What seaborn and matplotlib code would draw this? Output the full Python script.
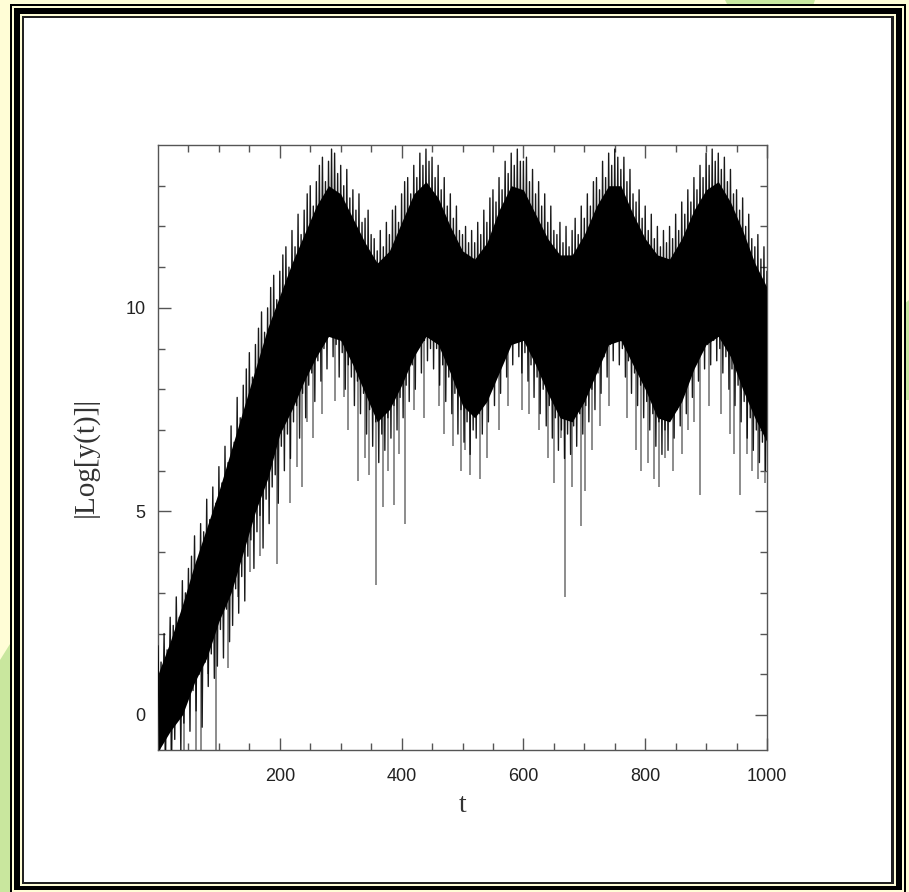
import numpy as np
import pandas as pd
import matplotlib
matplotlib.use("Agg")
import matplotlib.pyplot as plt
from matplotlib.patches import Rectangle, Polygon
import seaborn as sns

# ---- data -------------------------------------------------------------
# local maxima of the oscillation, every 5 time units (t = 0 ... 1000)
tips = [1.7, 1.3, 2.0, 1.6, 2.4, 2.2, 2.9, 2.4, 3.3, 3.0,
        3.6, 3.9, 4.4, 3.8, 4.7, 4.5, 5.3, 4.8, 5.6, 5.2,
        6.1, 5.7, 6.6, 6.2, 7.1, 6.7, 7.8, 7.3, 8.1, 8.5,
        8.9, 8.3, 9.1, 9.5, 9.9, 9.4, 10.0, 10.5, 10.8, 10.2,
        10.9,
        11.3, 11.5, 11.0, 11.9, 11.5, 12.3, 11.8, 12.4, 12.8, 13.0,
        12.5, 13.1, 13.5, 13.7, 13.1, 13.6, 13.9, 13.8, 13.3, 13.5,
        13.0, 13.4, 12.7, 12.9, 12.4, 12.8, 12.1, 12.2, 12.4, 11.8,
        11.7, 11.4, 11.9, 11.5, 12.1, 11.8, 12.4, 12.5, 12.1, 12.8,
        13.1, 13.2, 12.8, 13.5, 13.2, 13.8, 13.5, 13.9, 13.6, 13.7,
        13.2, 13.5, 12.9, 13.2, 12.5, 12.8, 12.2, 12.5, 11.9, 11.8,
        12.0, 11.6, 11.9, 11.6, 12.1, 11.8, 12.4, 12.1, 12.7, 12.9,
        12.6, 13.2, 12.9, 13.6, 13.3, 13.8, 13.5, 13.9, 13.6, 13.6,
        13.7, 13.1, 13.4, 12.8, 13.1, 12.5, 12.8, 12.1, 12.5, 11.9,
        11.8, 12.1, 11.6, 12.0, 11.5, 11.9, 12.2, 11.8, 12.5, 12.2,
        12.8, 12.5, 13.1, 13.2, 12.9, 13.6, 13.2, 13.8, 13.5, 13.9,
        13.7, 13.4, 13.7, 13.1, 13.4, 12.8, 12.6, 12.9, 12.2, 12.5,
        11.9, 12.3, 11.7, 12.0, 11.5, 11.9, 11.6, 12.0, 11.7, 12.3,
        11.9, 12.6, 12.3, 12.9, 12.6, 13.2, 12.9, 13.5, 13.2, 13.8,
        13.5, 13.9, 13.6, 13.8, 13.4, 13.7, 13.1, 13.4, 12.8, 12.9,
        12.4, 12.7, 12.0, 12.3, 11.7, 11.5, 11.8, 11.2, 11.5, 10.9]

# local minima in between (t = 2.5 ... 997.5)
dips = [-0.9, -0.5, -0.9, -0.1, -0.9, -0.6, 0.3, -0.9, -0.2, 0.5,
        -0.4, 0.6, 0.1, 1.0, -0.3, 1.3, 0.7, 1.5, 0.9, 1.2,
        2.1, 1.4, 2.6, 1.8, 2.2, 3.1, 2.5, 3.4, 2.8, 3.9,
        4.3, 3.6, 4.5, 4.9, 4.1, 5.3, 4.7, 5.6, 5.9, 5.2,
        6.6, 6.0, 6.9, 6.3, 7.2, 7.6, 6.8, 7.9, 7.3, 8.1,
        8.4, 7.7, 8.7, 8.2, 9.0, 8.5, 9.3, 8.8, 9.1, 8.3,
        8.9, 8.0, 8.6, 8.3, 7.6, 8.2, 7.4, 7.9, 6.9, 7.5,
        6.6, 7.2, 6.2, 6.9, 6.5, 7.3, 6.8, 7.6, 7.0, 7.8,
        7.3, 8.1, 7.7, 8.6, 8.0, 9.0, 8.4, 9.2, 8.7, 9.0,
        8.5, 9.0, 8.1, 8.6, 7.7, 8.3, 7.4, 7.9, 6.9, 7.5,
        6.7, 7.2, 6.4, 7.0, 6.8, 7.4, 6.9, 7.7, 7.2, 8.0,
        7.6, 8.4, 7.9, 8.8, 8.3, 9.1, 8.6, 9.2, 8.8, 8.4,
        8.9, 8.2, 8.6, 7.8, 8.3, 7.4, 8.0, 7.1, 7.6, 6.8,
        7.3, 6.5, 7.0, 6.3, 6.9, 6.4, 7.1, 6.6, 7.4, 6.9,
        7.6, 7.2, 8.0, 7.5, 8.4, 7.9, 8.8, 8.3, 9.1, 8.7,
        9.2, 8.6, 9.0, 8.3, 8.7, 7.9, 8.4, 7.6, 8.1, 7.3,
        7.7, 7.0, 7.4, 6.6, 7.2, 6.4, 7.0, 6.5, 7.3, 6.8,
        7.5, 7.1, 7.9, 7.4, 8.3, 7.8, 8.6, 8.2, 9.0, 8.5,
        9.1, 8.6, 9.2, 8.7, 9.0, 8.4, 8.8, 8.0, 8.5, 7.6,
        8.1, 7.2, 7.7, 6.8, 7.3, 6.5, 7.0, 6.2, 6.7, 6.0]

# solid core of the signal (upper / lower edge), every 20 time units
t_core = list(range(0, 1001, 20))
core_hi = [1.0, 1.8, 2.7, 3.7, 4.6, 5.5, 6.5, 7.5, 8.5, 9.5,
           10.3, 11.1, 11.8, 12.5, 13.0, 12.8, 12.2, 11.6, 11.1, 11.4,
           12.1, 12.8, 13.1, 12.7, 12.0, 11.4, 11.2, 11.6, 12.4, 13.0,
           12.9, 12.3, 11.7, 11.3, 11.3, 11.8, 12.5, 13.0, 13.0, 12.3,
           11.7, 11.3, 11.2, 11.7, 12.4, 12.9, 13.1, 12.6, 11.9, 11.1,
           10.5]
core_lo = [-0.9, -0.4, 0.0, 0.8, 1.4, 2.3, 3.0, 4.0, 5.0, 5.8,
           6.9, 7.5, 8.2, 8.8, 9.3, 9.2, 8.6, 7.9, 7.2, 7.5,
           8.1, 8.8, 9.3, 9.1, 8.4, 7.6, 7.3, 7.7, 8.4, 9.1,
           9.2, 8.6, 7.9, 7.3, 7.2, 7.7, 8.4, 9.1, 9.2, 8.6,
           8.0, 7.3, 7.2, 7.7, 8.5, 9.1, 9.3, 8.8, 8.0, 7.3,
           6.7]

# isolated drops below the main band
spike_t = [12, 22, 43, 63, 71, 82, 96, 115, 132, 151, 167, 195, 216, 228,
           236, 245, 255, 270, 291, 305, 312, 328, 340, 347, 358, 370, 377,
           388, 395, 405, 420, 437, 462, 470, 485, 497, 504, 512, 528, 540,
           560, 575, 597, 610, 625, 640, 650, 662, 669, 680, 695, 701, 712,
           725, 740, 770, 785, 793, 804, 815, 822, 833, 845, 860, 870, 880,
           890, 905, 925, 940, 945, 955, 967, 975, 985, 997]
spike_v = [-0.9, -0.9, -0.9, -0.9, -0.9, 1.0, -0.9, 1.15, 2.9, 3.5, 3.9,
           3.7, 5.2, 6.1, 5.6, 7.2, 6.8, 7.4, 7.7, 7.8, 7.0, 5.75, 6.3, 5.9,
           3.2, 5.1, 6.0, 5.15, 6.4, 4.7, 7.5, 7.3, 7.6, 6.9, 6.6, 6.0, 6.5,
           5.9, 5.8, 6.3, 7.0, 7.6, 7.5, 7.4, 7.0, 6.3, 5.7, 6.8, 2.9, 5.6,
           4.65, 5.5, 6.5, 7.1, 7.6, 7.3, 6.5, 6.0, 6.2, 5.8, 5.6, 6.3, 6.0,
           6.4, 7.0, 7.2, 5.4, 7.6, 7.4, 6.9, 6.4, 5.4, 6.4, 6.0, 5.8, 5.7]

x_major = [200, 400, 600, 800, 1000]
y_major = [0, 5, 10]

# ---- figure -----------------------------------------------------------
sns.set_theme(style="ticks")
W, H = 909, 892
fig = plt.figure(figsize=(W / 100, H / 100), dpi=100)
page = "#FFFDD6"
fig.patch.set_facecolor(page)


def px_rect(x0, y0, x1, y1, **kw):
    """Rectangle in pixel coordinates measured from the top-left corner."""
    return Rectangle((x0 / W, 1 - y1 / H), (x1 - x0) / W, (y1 - y0) / H,
                     transform=fig.transFigure, **kw)


def px_poly(pts, **kw):
    return Polygon([(x / W, 1 - y / H) for x, y in pts],
                   transform=fig.transFigure, **kw)


green = "#C9E79E"
# soft green shapes in the page background
for pts in ([(725, 0), (815, 0), (808, 20), (735, 20)],
            [(0, 660), (25, 620), (25, 892), (0, 892)],
            [(885, 320), (909, 300), (909, 400), (885, 400)],
            [(320, 892), (350, 870), (400, 870), (400, 892)]):
    fig.patches.append(px_poly(pts, facecolor=green, edgecolor="none", zorder=0))

# framed white panel
for x0, y0, x1, y1, c in ((10, 4, 906, 892, "black"),
                          (12, 6, 904, 892, page),
                          (14, 8, 902, 890, "black"),
                          (20, 14, 896, 886, page),
                          (22, 16, 894, 884, "#222222"),
                          (24, 18, 891, 882, "white")):
    fig.patches.append(px_rect(x0, y0, x1, y1, facecolor=c, edgecolor="none", zorder=1))

ax = fig.add_axes([158 / W, 1 - 750 / H, (767 - 158) / W, (750 - 145) / H])
ax.set_facecolor("white")
ax.set_zorder(2)

# oscillating signal: alternate maxima and minima
t_tips = np.arange(len(tips)) * 5.0
t_dips = t_tips[:-1] + 2.5

# isolated drops, hanging from the band
spike_top = np.interp(spike_t, t_core, core_lo) + 0.5
ax.vlines(spike_t, spike_v, spike_top, color="#6e6e6e", lw=1.1, zorder=2)

# solid core
ax.fill_between(t_core, core_lo, core_hi, color="black", lw=0, zorder=2)

t_all, v_all = [], []
for i in range(len(dips)):
    t_all += [t_tips[i], t_dips[i]]
    v_all += [tips[i], dips[i]]
t_all.append(t_tips[-1])
v_all.append(tips[-1])
sig = pd.DataFrame({"t": t_all, "v": v_all})
sns.lineplot(data=sig, x="t", y="v", sort=False, estimator=None, ax=ax,
             color="black", lw=1.0, alpha=0.9, zorder=3)

ax.set_xlim(0, 1000)
ax.set_ylim(-0.86, 14)
ax.set_xticks(x_major)
ax.set_yticks(y_major)
ax.set_xticks(np.arange(50, 1000, 50), minor=True)
ax.set_yticks(np.arange(0, 14, 1), minor=True)
ax.tick_params(which="both", direction="in", top=True, right=True,
               bottom=True, left=True, color="#555555", width=1)
ax.tick_params(which="major", length=9, labelsize=13, labelcolor="#222222")
ax.tick_params(axis="x", which="major", pad=13)
ax.tick_params(axis="y", which="major", pad=9)
ax.tick_params(which="minor", length=5)
for lab in ax.get_xticklabels() + ax.get_yticklabels():
    lab.set_family("Liberation Sans")
for s in ax.spines.values():
    s.set_color("#555555")
    s.set_linewidth(1)

ax.set_xlabel("t", family="Liberation Serif", fontsize=20, color="#333333",
              labelpad=6)
ax.set_ylabel("|Log[y(t)]|", family="Liberation Serif", fontsize=21,
              color="#333333", labelpad=14)
ax.yaxis.set_label_coords(-0.098, 0.485)

fig.savefig("out.png", dpi=100, facecolor=fig.get_facecolor())
